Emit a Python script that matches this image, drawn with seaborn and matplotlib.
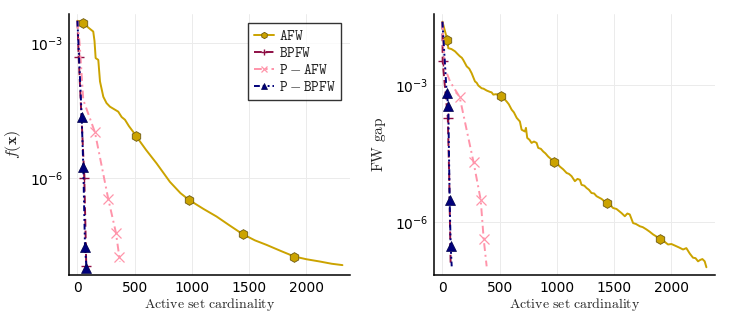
import numpy as np
import pandas as pd
import matplotlib
matplotlib.use("Agg")
import matplotlib.pyplot as plt
import seaborn as sns
from matplotlib.ticker import FixedLocator, LogFormatterSciNotation, NullLocator

sns.set_style("white")
plt.rcParams["font.family"] = ["DejaVu Sans"]
plt.rcParams["mathtext.fontset"] = "dejavusans"

# ---------------- data (x = active set cardinality, values as log10) ----------------
labels = [r"$\mathtt{AFW}$", r"$\mathtt{BPFW}$", r"$\mathtt{P-AFW}$", r"$\mathtt{P-BPFW}$"]
colors = ["#CBA300", "#8E0F45", "#FF94AA", "#00007A"]

# left panel: f(x)
f_afw_x = [1, 52, 68, 100, 139, 150, 160, 183, 198, 227, 255, 285, 357, 387, 416, 450, 488, 512,
           600, 692, 808, 900, 974, 1100, 1215, 1330, 1442, 1550, 1651, 1780, 1895, 2000, 2116, 2220, 2314]
f_afw_log = [-2.50, -2.54, -2.59, -2.66, -2.74, -2.95, -3.33, -3.37, -3.85, -4.19, -4.33, -4.41, -4.52,
             -4.64, -4.70, -4.84, -4.97, -5.06, -5.37, -5.67, -6.08, -6.33, -6.48, -6.68, -6.85, -7.05,
             -7.24, -7.38, -7.48, -7.62, -7.74, -7.80, -7.85, -7.90, -7.93]
f_afw_marks = [1, 17, 22, 26, 30]

f_bpfw_x = [1, 12, 30, 45, 61, 70, 78]
f_bpfw_log = [-2.50, -3.31, -4.30, -5.10, -6.00, -7.00, -7.95]
f_bpfw_marks = [1, 4, 6]

f_pafw_x = [1, 20, 35, 52, 154, 270, 337, 366, 372]
f_pafw_log = [-2.50, -3.00, -3.60, -4.26, -4.98, -6.46, -7.21, -7.74, -7.85]
f_pafw_marks = [4, 5, 6, 7]

f_pbpfw_x = [1, 38, 52, 67, 80]
f_pbpfw_log = [-2.50, -4.63, -5.74, -7.52, -7.99]
f_pbpfw_marks = [1, 2, 3, 4]

# right panel: FW gap
g_afw_x = [1, 44, 52, 80, 111, 130, 154, 170, 183, 213, 235, 256, 285, 300, 314, 343, 360, 387, 416,
           430, 445, 470, 509, 535, 561, 580, 605, 625, 649, 677, 692, 721, 730, 741, 760, 779, 800,
           823, 837, 860, 881, 900, 924, 974, 1000, 1026, 1055, 1085, 1105, 1128, 1157, 1180, 1201,
           1215, 1240, 1259, 1280, 1302, 1325, 1346, 1390, 1433, 1460, 1491, 1520, 1564, 1593, 1615,
           1636, 1665, 1690, 1724, 1750, 1782, 1810, 1840, 1898, 1930, 1970, 2000, 2044, 2070, 2101,
           2130, 2160, 2188, 2210, 2232, 2250, 2270, 2290, 2305]
g_afw_log = [-1.61, -2.01, -2.19, -2.21, -2.26, -2.31, -2.37, -2.40, -2.45, -2.59, -2.64, -2.74, -2.92,
             -2.95, -3.01, -3.07, -3.08, -3.12, -3.15, -3.16, -3.21, -3.20, -3.25, -3.29, -3.36, -3.42,
             -3.54, -3.60, -3.72, -3.80, -3.98, -4.02, -3.94, -4.16, -4.20, -4.27, -4.24, -4.27, -4.38,
             -4.40, -4.46, -4.50, -4.57, -4.68, -4.72, -4.79, -4.85, -4.93, -4.95, -5.00, -5.11, -5.06,
             -5.08, -5.19, -5.21, -5.26, -5.30, -5.37, -5.38, -5.44, -5.50, -5.59, -5.62, -5.70, -5.72,
             -5.81, -5.88, -5.82, -5.84, -6.03, -6.05, -6.10, -6.12, -6.17, -6.22, -6.28, -6.37, -6.42,
             -6.50, -6.49, -6.54, -6.57, -6.61, -6.58, -6.70, -6.79, -6.80, -6.87, -6.84, -6.82, -6.87,
             -7.00]
g_afw_marks = [1, 22, 43, 61, 76]

g_bpfw_x = [1, 3, 25, 48, 60, 73]
g_bpfw_log = [-1.61, -2.48, -3.10, -3.72, -5.00, -6.98]
g_bpfw_marks = [1, 3]

g_pafw_x = [1, 9, 23, 67, 111, 151, 273, 335, 361, 387]
g_pafw_log = [-1.61, -2.08, -2.63, -2.92, -3.10, -3.26, -4.70, -5.52, -6.38, -6.98]
g_pafw_marks = [5, 6, 7, 8]

g_pbpfw_x = [1, 38, 52, 64, 73, 82]
g_pbpfw_log = [-1.61, -3.18, -3.45, -5.52, -6.54, -6.98]
g_pbpfw_marks = [1, 2, 3, 4]

yticks = [1e-3, 1e-6]
xticks = [0, 500, 1000, 1500, 2000]

# ---------------- styles ----------------
styles = [
    dict(linestyle="-", marker="h", ms=7, mec="#6E5A10", mew=0.6),
    dict(linestyle=(0, (4, 2)), marker="+", ms=7, mew=1.0),
    dict(linestyle=(0, (4, 2, 1, 2)), marker="x", ms=7, mew=0.9),
    dict(linestyle=(0, (3, 1.5, 1, 1.5, 1, 1.5)), marker="^", ms=6.5, mec="#00004A", mew=0.5),
]

fig = plt.figure(figsize=(7.29, 3.16), dpi=100)
axL = fig.add_axes([69.3 / 729, 41 / 316, 280.7 / 729, 261 / 316])
axR = fig.add_axes([434.3 / 729, 41 / 316, 280.7 / 729, 261 / 316])

left_series = [(f_afw_x, f_afw_log, f_afw_marks), (f_bpfw_x, f_bpfw_log, f_bpfw_marks),
               (f_pafw_x, f_pafw_log, f_pafw_marks), (f_pbpfw_x, f_pbpfw_log, f_pbpfw_marks)]
right_series = [(g_afw_x, g_afw_log, g_afw_marks), (g_bpfw_x, g_bpfw_log, g_bpfw_marks),
                (g_pafw_x, g_pafw_log, g_pafw_marks), (g_pbpfw_x, g_pbpfw_log, g_pbpfw_marks)]

for ax, series, with_label in [(axL, left_series, True), (axR, right_series, False)]:
    ax.set_yscale("log")
    for (xs, ls, mk), lab, col, st in zip(series, labels, colors, styles):
        df = pd.DataFrame({"x": xs, "y": 10.0 ** np.array(ls)})
        kw = dict(st)
        if "mec" not in kw:
            kw["mec"] = col
        sns.lineplot(data=df, x="x", y="y", ax=ax, color=col, lw=1.4, sort=False, estimator=None,
                     markevery=mk, mfc=col, label=lab if with_label else None,
                     legend=with_label, **kw)
    ax.set_xlim(-70, 2380)
    ax.xaxis.set_major_locator(FixedLocator(xticks))
    ax.yaxis.set_major_locator(FixedLocator(yticks))
    ax.yaxis.set_minor_locator(NullLocator())
    ax.yaxis.set_major_formatter(LogFormatterSciNotation())
    ax.grid(True, color="#ebebeb", lw=0.7)
    for s in ["top", "right"]:
        ax.spines[s].set_visible(False)
    for s in ["left", "bottom"]:
        ax.spines[s].set_color("black")
        ax.spines[s].set_linewidth(1.1)
    ax.tick_params(direction="in", length=4, width=1, labelsize=10, colors="black", pad=4)
    ax.set_xlabel(r"$\mathrm{Active\ set\ cardinality}$", fontsize=10, math_fontfamily="cm", labelpad=1)

axL.set_ylim(10 ** -8.15, 10 ** -2.35)
axR.set_ylim(10 ** -7.17, 10 ** -1.44)
axL.set_ylabel(r"$f(\mathbf{x})$", fontsize=11.5, math_fontfamily="cm", labelpad=5)
axR.set_ylabel(r"$\mathrm{FW\ gap}$", fontsize=11, math_fontfamily="cm", labelpad=5)

leg = axL.legend(loc="upper right", bbox_to_anchor=(0.968, 0.967), borderaxespad=0, frameon=True,
                 fancybox=False, edgecolor="black", fontsize=10.5, handlelength=1.4, handletextpad=0.3,
                 labelspacing=0.12, borderpad=0.4, markerscale=0.65)
leg.get_frame().set_linewidth(1.0)
for t in leg.get_texts():
    t.set_math_fontfamily("cm")

fig.savefig("out.png", dpi=100)
